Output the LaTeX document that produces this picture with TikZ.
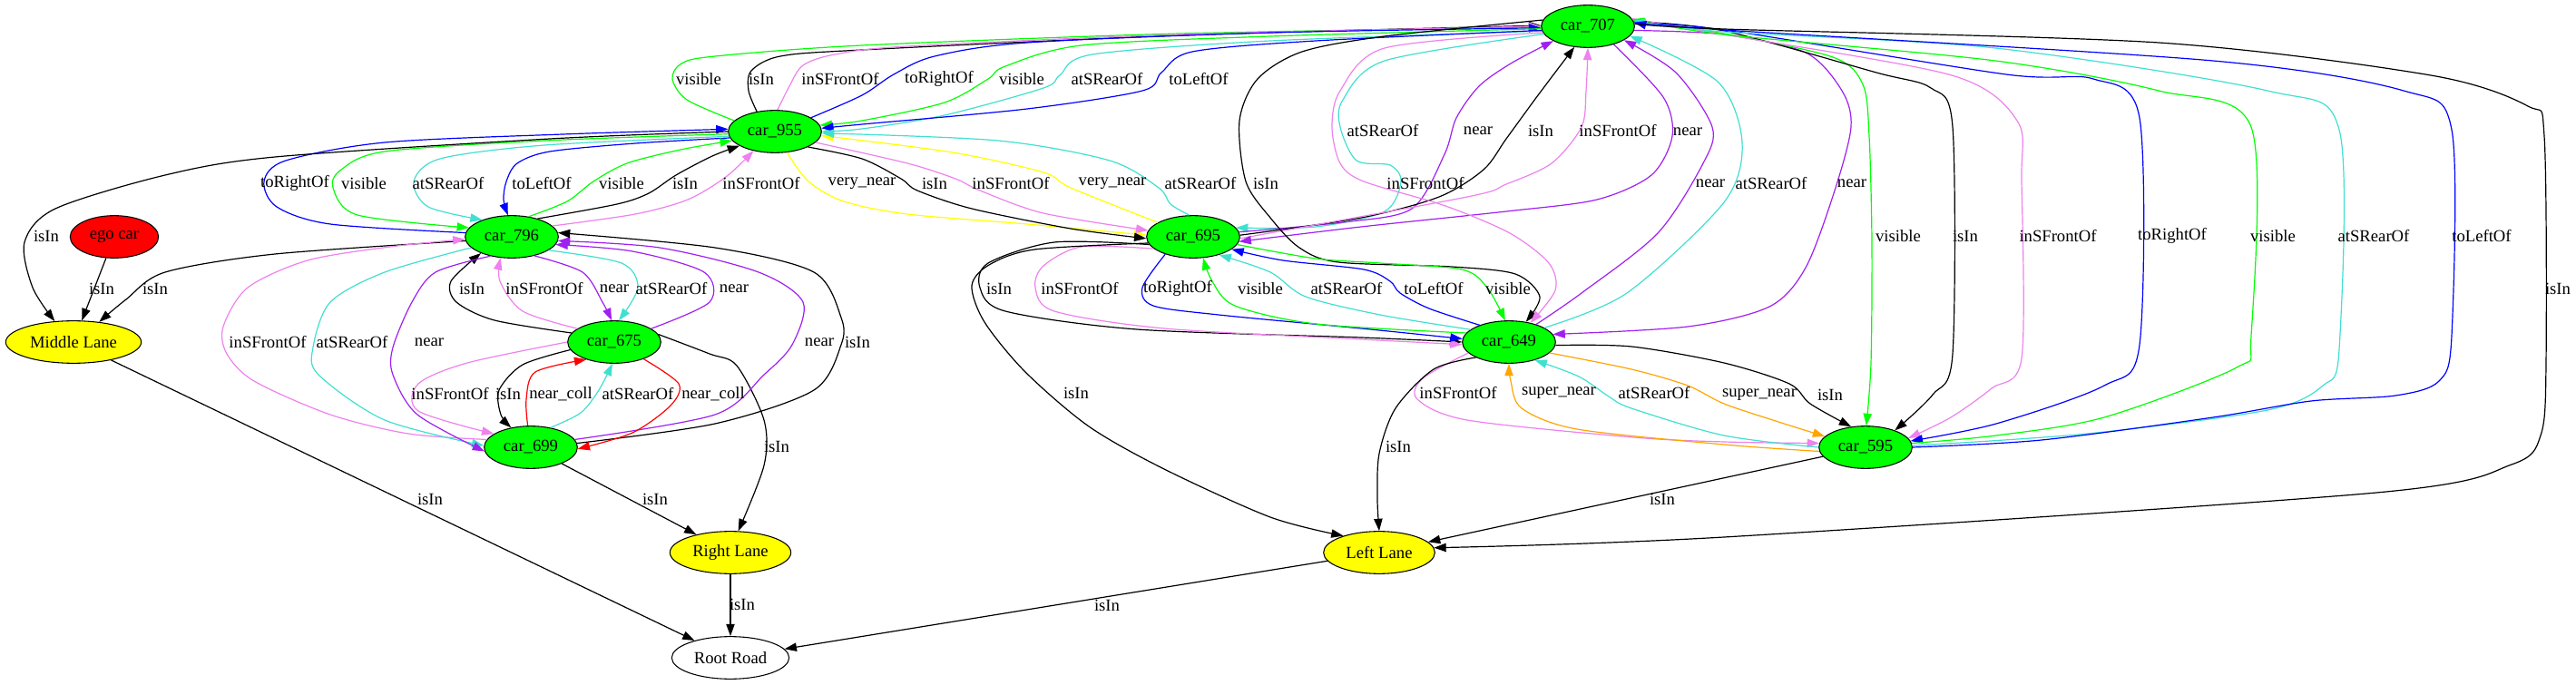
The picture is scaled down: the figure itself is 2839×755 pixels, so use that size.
\documentclass[tikz,border=0pt]{standalone}
\usepackage{fontspec}
\setmainfont{Liberation Serif}
\usetikzlibrary{arrows.meta,shapes.geometric}
\definecolor{gvgreen}{HTML}{00FF00}
\definecolor{gvturq}{HTML}{40E0D0}
\definecolor{gvviolet}{HTML}{EE82EE}
\definecolor{gvpurple}{HTML}{A020F0}
\definecolor{gvyellow}{HTML}{FFFF00}
\definecolor{gvorange}{HTML}{FFA500}
\definecolor{gvblue}{HTML}{0000FF}
\definecolor{gvred}{HTML}{FF0000}
\begin{document}
\begin{tikzpicture}[x=0.75pt,y=-0.75pt,
  every node/.style={font=\fontsize{14}{16}\selectfont},
  basen/.style={ellipse,draw=black,line width=0.8pt,minimum height=35pt,inner sep=0pt},
  carn/.style={basen,fill=gvgreen,minimum width=77pt},
  egon/.style={basen,fill=gvred,minimum width=73pt},
  lane/.style={basen,fill=gvyellow},
  rootn/.style={basen,fill=white,minimum width=97pt},
  ed/.style={line width=0.9pt,-{Triangle[length=10pt,width=7pt]}},
  lb/.style={inner sep=0pt}]
\useasboundingbox (0,0) rectangle (2839,755);
\fill[white] (0,0) rectangle (2839,755);
% nodes
\node[carn] (A) at (1750,29) {car\_707};
\node[carn] (B) at (854,145) {car\_955};
\node[carn] (C) at (564,261) {car\_796};
\node[carn] (D) at (1315,261) {car\_695};
\node[carn] (E) at (677,377) {car\_675};
\node[carn] (F) at (1663,377) {car\_649};
\node[carn] (G) at (585,493) {car\_699};
\node[carn] (H) at (2056,493) {car\_595};
\node[egon] (ego) at (126,261) {ego car};
\node[lane,minimum width=112pt] (ML) at (81,377) {Middle Lane};
\node[lane,minimum width=100pt] (RL) at (805,609) {Right Lane};
\node[lane,minimum width=92pt] (LL) at (1520,609) {Left Lane};
\node[rootn] (RR) at (805,725) {Root Road};
% 955 -> 707
\draw[ed,gvgreen] plot[smooth] coordinates {(B.165) (757,110) (741,87) (751,70) (788,62) (950,50) (1300,37) (A.181)};
\draw[ed,black] plot[smooth] coordinates {(B.132) (825,100) (828,78) (860,62) (950,55) (1300,39) (A.179)};
\draw[ed,gvviolet] plot[smooth] coordinates {(B.83) (870,95) (885,72) (920,60) (1000,51) (1300,38) (A.180)};
\draw[ed,gvblue] plot[smooth] coordinates {(B.21) (950,105) (985,82) (1030,62) (1132,47) (1400,36) (A.182)};
% 707 -> 955
\draw[ed,gvgreen] plot[smooth] coordinates {(A.183) (1400,40) (1192,50) (1108,73) (1089,87) (1041,113) (950,133) (B.8)};
\draw[ed,gvturq] plot[smooth] coordinates {(A.186) (1400,45) (1204,60) (1168,83) (1150,97) (1041,127) (950,142) (B.0)};
\draw[ed,gvblue] plot[smooth] coordinates {(A.185) (1450,45) (1314,57) (1280,80) (1259,100) (1132,120) (950,137) (B.4)};
\node[lb] (l1) at (770,87) {visible};
\node[lb] (l2) at (839,87) {isIn};
\node[lb] (l3) at (926,87) {inSFrontOf};
\node[lb] (l4) at (1035,87) {toRightOf};
\node[lb] (l5) at (1126,87) {visible};
\node[lb] (l6) at (1220,87) {atSRearOf};
\node[lb] (l7) at (1321,87) {toLeftOf};
% 955 <-> 796
\draw[ed,gvblue] plot[smooth] coordinates {(C.175) (364,247) (305,228) (291,200) (315,177) (424,157) (620,148) (B.177)};
\draw[ed,gvgreen] plot[smooth] coordinates {(B.183) (600,155) (424,167) (376,187) (367,207) (394,237) (C.168)};
\draw[ed,gvturq] plot[smooth] coordinates {(B.186) (600,160) (485,175) (456,200) (472,228) (C.150)};
\draw[ed,gvblue] plot[smooth] coordinates {(B.188) (700,158) (606,167) (570,180) (558,200) (555,220) (C.100)};
\draw[ed,gvgreen] plot[smooth] coordinates {(C.50) (625,222) (654,200) (691,180) (750,165) (B.192)};
\draw[ed,black] plot[smooth] coordinates {(C.35) (680,225) (715,213) (745,193) (785,172) (B.202)};
\draw[ed,gvviolet] plot[smooth] coordinates {(C.15) (700,236) (758,220) (800,195) (B.222)};
\node[lb] (l8) at (325,202) {toRightOf};
\node[lb] (l9) at (401,202) {visible};
\node[lb] (l10) at (494,202) {atSRearOf};
\node[lb] (l11) at (597,202) {toLeftOf};
\node[lb] (l12) at (685,202) {visible};
\node[lb] (l13) at (755,202) {isIn};
\node[lb] (l14) at (839,202) {inSFrontOf};
% 955 <-> 695
\draw[ed,gvyellow] plot[smooth] coordinates {(B.300) (891,200) (930,222) (1000,236) (1132,247) (D.178)};
\draw[ed,black] plot[smooth] coordinates {(B.335) (950,175) (993,197) (1011,210) (1071,230) (1180,252) (D.182)};
\draw[ed,gvviolet] plot[smooth] coordinates {(B.345) (1000,180) (1053,197) (1080,210) (1150,235) (D.172)};
\draw[ed,gvyellow] plot[smooth] coordinates {(D.158) (1180,207) (1150,190) (1050,168) (B.355)};
\draw[ed,gvturq] plot[smooth] coordinates {(D.100) (1290,225) (1277,207) (1223,177) (1100,155) (B.358)};
\node[lb] (l15) at (950,202) {very\_near};
\node[lb] (l16) at (1030,202) {isIn};
\node[lb] (l17) at (1114,202) {inSFrontOf};
\node[lb] (l18) at (1226,202) {very\_near};
\node[lb] (l19) at (1323,202) {atSRearOf};
% 707 <-> 695
\draw[ed,gvturq] plot[smooth] coordinates {(A.190) (1526,67) (1480,110) (1477,140) (1495,177) (1532,182) (1544,200) (1526,233) (1450,250) (D.12)};
\draw[ed,gvpurple] plot[smooth] coordinates {(D.6) (1480,245) (1556,230) (1592,170) (1605,130) (1630,95) (1665,70) (A.203)};
\draw[ed,black] plot[smooth] coordinates {(D.2) (1500,240) (1586,217) (1635,187) (1660,153) (1695,105) (A.237)};
\draw[ed,gvviolet] plot[smooth] coordinates {(D.358) (1617,217) (1660,203) (1710,180) (1743,140) (1748,100) (A.270)};
\draw[ed,gvpurple] plot[smooth] coordinates {(A.325) (1833,107) (1843,150) (1820,193) (1760,220) (1660,233) (1500,250) (D.354)};
\node[lb] (l20) at (1524,144) {atSRearOf};
\node[lb] (l21) at (1629,144) {near};
\node[lb] (l22) at (1698,144) {isIn};
\node[lb] (l23) at (1783,144) {inSFrontOf};
\node[lb] (l24) at (1860,145) {near};
% 707 <-> 649
\draw[ed,black] plot[smooth] coordinates {(A.172) (1526,40) (1435,57) (1386,87) (1366,133) (1373,200) (1400,240) (1432,273) (1475,289) (1600,294) (1670,302) (1697,327) (F.50)};
\draw[ed,gvviolet] plot[smooth] coordinates {(A.188) (1526,53) (1477,100) (1468,140) (1477,180) (1503,200) (1593,227) (1664,257) (1707,290) (1714,320) (F.42)};
\draw[ed,gvpurple] plot[smooth] coordinates {(A.355) (1900,38) (1990,58) (2030,100) (2040,140) (2022,210) (1990,295) (1950,338) (1860,360) (F.10)};
\draw[ed,gvpurple] plot[smooth] coordinates {(F.33) (1743,323) (1827,257) (1877,180) (1887,140) (1847,80) (A.339)};
\draw[ed,gvturq] plot[smooth] coordinates {(F.22) (1793,323) (1900,223) (1920,157) (1893,90) (A.347)};
\node[lb] (l25) at (1395,202) {isIn};
\node[lb] (l26) at (1571,202) {inSFrontOf};
\node[lb] (l27) at (2041,202) {near};
\node[lb] (l28) at (1885,202) {near};
\node[lb] (l29) at (1952,202) {atSRearOf};
% 695 <-> 649
\draw[ed,black] plot[smooth] coordinates {(D.190) (1162,267) (1089,290) (1080,317) (1108,343) (1253,363) (1500,372) (F.180)};
\draw[ed,gvviolet] plot[smooth] coordinates {(D.197) (1192,272) (1150,293) (1141,317) (1162,343) (1283,362) (1500,374) (F.183)};
\draw[ed,gvblue] plot[smooth] coordinates {(D.212) (1259,317) (1271,337) (1343,347) (1500,362) (F.176)};
\draw[ed,gvgreen] plot[smooth] coordinates {(F.168) (1450,357) (1361,337) (1336,310) (D.295)};
\draw[ed,gvturq] plot[smooth] coordinates {(F.162) (1521,347) (1439,327) (1400,300) (D.325)};
\draw[ed,gvblue] plot[smooth] coordinates {(F.150) (1575,340) (1543,323) (1532,310) (1503,297) (1414,287) (D.342)};
\draw[ed,gvgreen] plot[smooth] coordinates {(D.350) (1450,285) (1521,290) (1611,297) (1639,317) (F.100)};
\node[lb] (l30) at (1101,318) {isIn};
\node[lb] (l31) at (1190,318) {inSFrontOf};
\node[lb] (l32) at (1298,318) {toRightOf};
\node[lb] (l33) at (1389,318) {visible};
\node[lb] (l34) at (1484,318) {atSRearOf};
\node[lb] (l35) at (1580,318) {toLeftOf};
\node[lb] (l36) at (1662,318) {visible};
% 649 <-> 595
\draw[ed,gvviolet] plot[smooth] coordinates {(F.195) (1568,417) (1562,440) (1617,463) (1800,482) (1900,487) (H.175)};
\draw[ed,gvorange] plot[smooth] coordinates {(H.185) (1900,490) (1738,473) (1677,450) (1665,420) (F.270)};
\draw[ed,gvturq] plot[smooth] coordinates {(H.180) (1900,480) (1798,450) (1773,437) (1740,415) (F.325)};
\draw[ed,gvorange] plot[smooth] coordinates {(F.345) (1798,407) (1860,425) (1900,445) (1960,465) (H.165)};
\draw[ed,black] plot[smooth] coordinates {(F.356) (1798,382) (1900,400) (1972,423) (1995,445) (H.125)};
\node[lb] (l37) at (1607,433) {inSFrontOf};
\node[lb] (l38) at (1718,433) {super\_near};
\node[lb] (l39) at (1823,433) {atSRearOf};
\node[lb] (l40) at (1939,435) {super\_near};
\node[lb] (l41) at (2017,435) {isIn};
% 707 <-> 595
\draw[ed,gvgreen] plot[smooth] coordinates {(A.8) (1900,37) (2020,63) (2053,93) (2060,150) (2063,267) (2062,400) (H.88)};
\draw[ed,black] plot[smooth] coordinates {(A.6) (1900,34) (2068,80) (2128,97) (2152,140) (2152,390) (2130,435) (H.30)};
\draw[ed,gvviolet] plot[smooth] coordinates {(A.10) (1900,38) (2151,83) (2223,133) (2228,200) (2228,395) (2195,428) (2150,460) (H.12)};
\draw[ed,gvblue] plot[smooth] coordinates {(A.4) (1900,33) (2211,82) (2307,87) (2358,130) (2358,380) (2319,425) (2200,467) (H.8)};
\draw[ed,gvgreen] plot[smooth] coordinates {(H.5) (2200,480) (2319,460) (2465,405) (2481,370) (2481,140) (2379,100) (2199,67) (1900,38) (A.9)};
\draw[ed,gvturq] plot[smooth] coordinates {(H.2) (2300,478) (2499,452) (2560,425) (2578,385) (2578,143) (2499,100) (2199,53) (1900,35) (A.7)};
\draw[ed,gvblue] plot[smooth] coordinates {(H.0) (2250,485) (2439,460) (2547,442) (2640,436) (2688,420) (2702,370) (2702,143) (2649,100) (2439,67) (1900,33) (A.5)};
\draw[ed,black] plot[smooth] coordinates {(A.3) (1900,32) (2379,47) (2679,83) (2786,117) (2804,150) (2806,400) (2800,480) (2768,512) (2619,543) (1900,592) (LL.5)};
\node[lb] (l42) at (2092,260) {visible};
\node[lb] (l43) at (2166,260) {isIn};
\node[lb] (l44) at (2268,260) {inSFrontOf};
\node[lb] (l45) at (2394,260) {toRightOf};
\node[lb] (l46) at (2505,260) {visible};
\node[lb] (l47) at (2616,260) {atSRearOf};
\node[lb] (l48) at (2735,260) {toLeftOf};
\node[lb] (l49) at (2819,318) {isIn};
% lanes (right)
\draw[ed,black] plot[smooth] coordinates {(D.188) (1140,275) (1090,292) (1071,315) (1085,355) (1130,410) (1200,470) (1283,517) (1400,570) (LL.155)};
\draw[ed,black] plot[smooth] coordinates {(F.205) (1580,407) (1538,450) (1520,500) (1518,550) (LL.90)};
\draw[ed,black] (H) -- (LL);
\draw[ed,black] (LL) -- (RR);
\node[lb] (l50) at (1186,433) {isIn};
\node[lb] (l51) at (1541,492) {isIn};
\node[lb] (l52) at (1832,550) {isIn};
\node[lb] (l53) at (1220,667) {isIn};
% lanes (left)
\draw[ed,black] (ML) -- (RR);
\draw[ed,black] (RL) -- (RR);
\draw[ed,black] (G) -- (RL);
\draw[ed,black] plot[smooth] coordinates {(E.10) (782,390) (812,403) (842,463) (842,513) (RL.70)};
\draw[ed,black] (ego) -- (ML);
\draw[ed,black] plot[smooth] coordinates {(C.185) (303,280) (182,300) (139,330) (ML.38)};
\draw[ed,black] plot[smooth] coordinates {(B.180) (606,153) (303,173) (182,193) (61,230) (27,267) (36,317) (ML.132)};
\node[lb] (l54) at (474,550) {isIn};
\node[lb] (l55) at (818,666) {isIn};
\node[lb] (l56) at (722,550) {isIn};
\node[lb] (l57) at (856,492) {isIn};
\node[lb] (l58) at (112,318) {isIn};
\node[lb] (l59) at (171,318) {isIn};
\node[lb] (l60) at (51,260) {isIn};
% 796 <-> 675
\draw[ed,black] plot[smooth] coordinates {(E.168) (545,353) (503,333) (497,310) (C.208)};
\draw[ed,gvviolet] plot[smooth] coordinates {(E.160) (576,343) (551,310) (C.242)};
\draw[ed,gvpurple] plot[smooth] coordinates {(C.320) (642,300) (664,333) (E.97)};
\draw[ed,gvturq] plot[smooth] coordinates {(C.340) (685,290) (703,317) (E.78)};
\draw[ed,gvpurple] plot[smooth] coordinates {(E.20) (782,333) (776,300) (697,277) (C.350)};
\node[lb] (l61) at (520,318) {isIn};
\node[lb] (l62) at (600,318) {inSFrontOf};
\node[lb] (l63) at (677,318) {near};
\node[lb] (l64) at (740,318) {atSRearOf};
\node[lb] (l65) at (809,318) {near};
% 796 <-> 699
\draw[ed,gvviolet] plot[smooth] coordinates {(G.170) (450,478) (364,457) (280,420) (250,390) (246,360) (273,317) (339,287) (430,272) (C.183)};
\draw[ed,gvturq] plot[smooth] coordinates {(C.195) (424,300) (364,333) (345,383) (351,413) (424,463) (G.178)};
\draw[ed,gvpurple] plot[smooth] coordinates {(C.222) (480,300) (454,333) (433,383) (433,413) (460,457) (G.185)};
\draw[ed,gvpurple] plot[smooth] coordinates {(G.10) (788,457) (842,413) (873,380) (885,333) (836,300) (727,273) (C.355)};
\draw[ed,black] plot[smooth] coordinates {(G.5) (788,467) (897,430) (927,380) (927,350) (897,300) (788,273) (C.5)};
\node[lb] (l66) at (295,377) {inSFrontOf};
\node[lb] (l67) at (388,377) {atSRearOf};
\node[lb] (l68) at (473,377) {near};
\node[lb] (l69) at (903,377) {near};
\node[lb] (l70) at (945,377) {isIn};
% 675 <-> 699
\draw[ed,gvviolet] plot[smooth] coordinates {(E.180) (515,400) (461,423) (461,453) (G.160)};
\draw[ed,black] plot[smooth] coordinates {(E.190) (576,402) (550,430) (552,457) (G.135)};
\draw[ed,gvred] plot[smooth] coordinates {(G.98) (580,440) (590,410) (E.212)};
\draw[ed,gvturq] plot[smooth] coordinates {(G.45) (640,455) (660,430) (E.265)};
\draw[ed,gvred] plot[smooth] coordinates {(E.330) (748,423) (739,447) (697,477) (G.358)};
\node[lb] (l71) at (496,434) {inSFrontOf};
\node[lb] (l72) at (560,434) {isIn};
\node[lb] (l73) at (618,434) {near\_coll};
\node[lb] (l74) at (703,434) {atSRearOf};
\node[lb] (l75) at (786,434) {near\_coll};
\end{tikzpicture}
\end{document}
